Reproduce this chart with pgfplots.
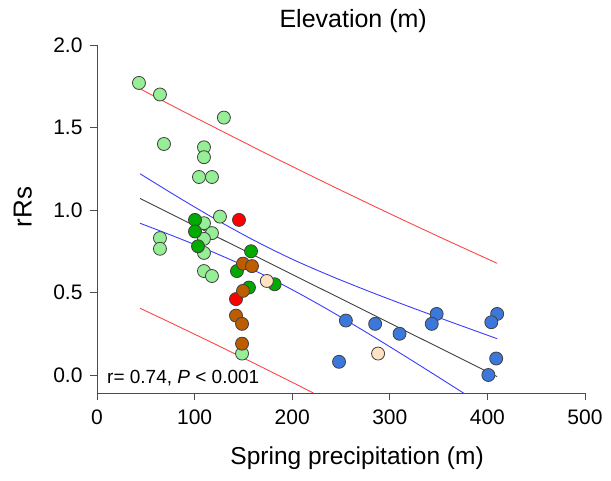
\documentclass[border=0pt]{standalone}
\usepackage{fontspec}
\setmainfont{Liberation Sans}
\usepackage{pgfplots}
\pgfplotsset{compat=1.18}
\definecolor{lgreen}{RGB}{150,238,150}
\definecolor{dgreen}{RGB}{0,170,0}
\definecolor{mred}{RGB}{255,0,0}
\definecolor{mbrown}{RGB}{190,92,0}
\definecolor{mbeige}{RGB}{255,225,195}
\definecolor{mblue}{RGB}{60,120,220}
\definecolor{lred}{RGB}{255,70,70}
\definecolor{lblue}{RGB}{60,60,255}
\begin{document}
\begin{tikzpicture}
\path[use as bounding box] (-97pt,-88pt) rectangle (514pt,393pt);
\begin{axis}[
  at={(0pt,0pt)}, anchor=south west,
  scale only axis, width=488pt, height=348pt,
  xmin=0, xmax=500, ymin=-0.109, ymax=2.0,
  axis x line*=bottom, axis y line*=left,
  axis line style={black!70, line width=0.8pt},
  tick style={black!70, line width=0.8pt},
  tick align=outside, major tick length=7pt,
  xtick={0,100,200,300,400,500},
  ytick={0,0.5,1,1.5,2},
  /pgf/number format/assume math mode=true,
  tick label style={font=\fontsize{21}{25}\selectfont},
  yticklabel style={/pgf/number format/.cd, fixed, fixed zerofill, precision=1, /tikz/.cd, xshift=-4pt},
  xticklabel style={/pgf/number format/.cd, fixed, precision=0, /tikz/.cd, yshift=-6pt},
  xlabel={Spring precipitation (m)},
  xlabel style={font=\fontsize{24.5}{28}\selectfont, at={(axis description cs:0.533,0)}, anchor=base, yshift=-72pt},
  ylabel={rRs},
  ylabel style={font=\fontsize{26}{30}\selectfont, at={(axis description cs:-0.152,0.534)}, anchor=center},
  title={Elevation (m)},
  title style={font=\fontsize{25}{29}\selectfont, at={(axis description cs:0.525,1)}, anchor=base, yshift=11pt},
  every axis plot/.append style={mark size=6.5pt},
]
% light green
\addplot[only marks, mark=*, mark options={fill=lgreen, draw=black!75, line width=0.8pt}] coordinates {
(43,1.77) (64.5,1.70) (130,1.56) (68.6,1.40) (109.6,1.38) (109.6,1.32)
(104.5,1.20) (117.8,1.20) (126,0.96) (109.6,0.92) (117.8,0.86) (64.5,0.83)
(64.5,0.765) (109.6,0.825) (109.6,0.74) (109.6,0.63) (117.8,0.60) (148.6,0.13)
};
% dark green
\addplot[only marks, mark=*, mark options={fill=dgreen, draw=black!75, line width=0.8pt}] coordinates {
(100.4,0.94) (100.4,0.87) (103.5,0.78) (157.8,0.75) (143.4,0.63) (182,0.55) (155.7,0.53)
};
% red
\addplot[only marks, mark=*, mark options={fill=mred, draw=black!75, line width=0.8pt}] coordinates {
(145.5,0.94) (142.4,0.46)
};
% brown
\addplot[only marks, mark=*, mark options={fill=mbrown, draw=black!75, line width=0.8pt}] coordinates {
(149.6,0.675) (158.8,0.66) (149.6,0.51) (142.4,0.36) (148.6,0.31) (148.6,0.19)
};
% beige
\addplot[only marks, mark=*, mark options={fill=mbeige, draw=black!75, line width=0.8pt}] coordinates {
(174,0.57) (288,0.13)
};
% blue
\addplot[only marks, mark=*, mark options={fill=mblue, draw=black!75, line width=0.8pt}] coordinates {
(255,0.33) (285,0.31) (310,0.25) (348,0.37) (343,0.31) (410,0.37) (404,0.32) (409,0.10) (401,0.00) (248,0.08)
};
% regression
\addplot[no marks, black!75, line width=0.9pt] coordinates {(44,1.07) (410,-0.0097)};
% confidence band
\addplot[no marks, lblue, line width=0.9pt, smooth] coordinates {
(44,1.220) (80,1.089) (120,0.949) (160,0.819) (200,0.702) (240,0.599) (280,0.504) (320,0.414) (360,0.327) (410,0.220)};
\addplot[no marks, lblue, line width=0.9pt, smooth] coordinates {
(44,0.920) (80,0.838) (120,0.742) (160,0.637) (200,0.517) (240,0.385) (280,0.244) (320,0.098) (360,-0.051) (410,-0.240)};
% prediction band
\addplot[no marks, lred, line width=0.9pt, smooth] coordinates {
(44,1.735) (80,1.623) (120,1.502) (160,1.382) (200,1.264) (240,1.148) (280,1.034) (320,0.922) (360,0.812) (410,0.677)};
\addplot[no marks, lred, line width=0.9pt, smooth] coordinates {
(44,0.405) (80,0.304) (120,0.190) (160,0.074) (200,-0.044) (240,-0.165)};
\node[anchor=base west, font=\fontsize{19}{22}\selectfont, inner sep=0pt] at (rel axis cs:0,0) [xshift=10pt, yshift=9pt] {r= 0.74, \textit{P} < 0.001};
\end{axis}
\end{tikzpicture}
\end{document}
